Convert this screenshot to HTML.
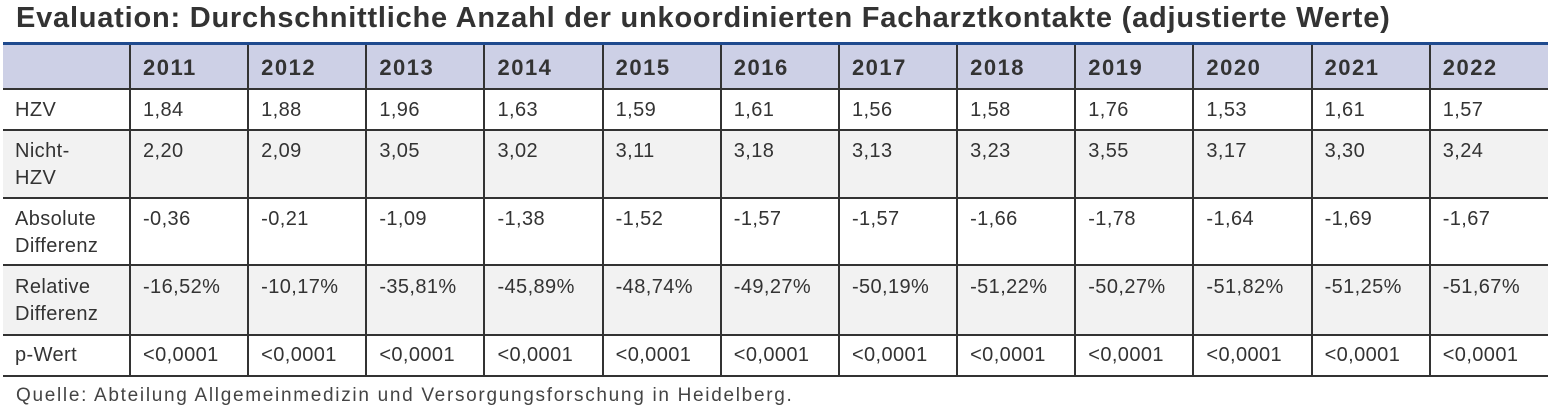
<!DOCTYPE html>
<html><head><meta charset="utf-8"><style>
*{margin:0;padding:0;box-sizing:border-box}
body{width:1550px;height:416px;background:#fff;font-family:"Liberation Sans",sans-serif;color:#333;position:relative;overflow:hidden}
h1{position:absolute;left:16px;top:2px;font-size:29px;font-weight:bold;color:#333;white-space:nowrap;letter-spacing:0.78px}
table{position:absolute;left:3px;top:42px;width:1545px;border-collapse:collapse;table-layout:fixed;font-size:20px;letter-spacing:0.4px}
td,th{border:2px solid #333;padding:0 0 0 12px;vertical-align:top;text-align:left;line-height:27px}
tr:first-child th,tr:first-child td{border-top:3px solid #1f4a8e}
td:first-child,th:first-child{border-left:none}
td:last-child,th:last-child{border-right:none}
th{background:#cdd0e6;font-weight:bold;font-size:22px;letter-spacing:1.5px;height:45px;padding-top:9px;padding-left:12px;text-align:left}
tr.g td{background:#f2f2f2}
.src{position:absolute;left:16px;top:385px;font-size:19px;letter-spacing:1.7px;color:#444;white-space:nowrap}
</style></head><body>
<h1>Evaluation: Durchschnittliche Anzahl der unkoordinierten Facharztkontakte (adjustierte Werte)</h1>
<table>
<colgroup><col style="width:127px"><col span="12"></colgroup>
<tr><th></th><th>2011</th><th>2012</th><th>2013</th><th>2014</th><th>2015</th><th>2016</th><th>2017</th><th>2018</th><th>2019</th><th>2020</th><th>2021</th><th>2022</th></tr>
<tr style="height:41px"><td style="padding-top:7px">HZV</td><td style="padding-top:7px">1,84</td><td style="padding-top:7px">1,88</td><td style="padding-top:7px">1,96</td><td style="padding-top:7px">1,63</td><td style="padding-top:7px">1,59</td><td style="padding-top:7px">1,61</td><td style="padding-top:7px">1,56</td><td style="padding-top:7px">1,58</td><td style="padding-top:7px">1,76</td><td style="padding-top:7px">1,53</td><td style="padding-top:7px">1,61</td><td style="padding-top:7px">1,57</td></tr>
<tr class="g" style="height:68px"><td style="padding-top:7px">Nicht-<br>HZV</td><td style="padding-top:7px">2,20</td><td style="padding-top:7px">2,09</td><td style="padding-top:7px">3,05</td><td style="padding-top:7px">3,02</td><td style="padding-top:7px">3,11</td><td style="padding-top:7px">3,18</td><td style="padding-top:7px">3,13</td><td style="padding-top:7px">3,23</td><td style="padding-top:7px">3,55</td><td style="padding-top:7px">3,17</td><td style="padding-top:7px">3,30</td><td style="padding-top:7px">3,24</td></tr>
<tr style="height:67px"><td style="padding-top:7px">Absolute<br>Differenz</td><td style="padding-top:7px">-0,36</td><td style="padding-top:7px">-0,21</td><td style="padding-top:7px">-1,09</td><td style="padding-top:7px">-1,38</td><td style="padding-top:7px">-1,52</td><td style="padding-top:7px">-1,57</td><td style="padding-top:7px">-1,57</td><td style="padding-top:7px">-1,66</td><td style="padding-top:7px">-1,78</td><td style="padding-top:7px">-1,64</td><td style="padding-top:7px">-1,69</td><td style="padding-top:7px">-1,67</td></tr>
<tr class="g" style="height:70px"><td style="padding-top:8px">Relative<br>Differenz</td><td style="padding-top:8px">-16,52%</td><td style="padding-top:8px">-10,17%</td><td style="padding-top:8px">-35,81%</td><td style="padding-top:8px">-45,89%</td><td style="padding-top:8px">-48,74%</td><td style="padding-top:8px">-49,27%</td><td style="padding-top:8px">-50,19%</td><td style="padding-top:8px">-51,22%</td><td style="padding-top:8px">-50,27%</td><td style="padding-top:8px">-51,82%</td><td style="padding-top:8px">-51,25%</td><td style="padding-top:8px">-51,67%</td></tr>
<tr style="height:41px"><td style="padding-top:6px">p-Wert</td><td style="padding-top:6px">&lt;0,0001</td><td style="padding-top:6px">&lt;0,0001</td><td style="padding-top:6px">&lt;0,0001</td><td style="padding-top:6px">&lt;0,0001</td><td style="padding-top:6px">&lt;0,0001</td><td style="padding-top:6px">&lt;0,0001</td><td style="padding-top:6px">&lt;0,0001</td><td style="padding-top:6px">&lt;0,0001</td><td style="padding-top:6px">&lt;0,0001</td><td style="padding-top:6px">&lt;0,0001</td><td style="padding-top:6px">&lt;0,0001</td><td style="padding-top:6px">&lt;0,0001</td></tr>
</table>
<div class="src">Quelle: Abteilung Allgemeinmedizin und Versorgungsforschung in Heidelberg.</div>
</body></html>
